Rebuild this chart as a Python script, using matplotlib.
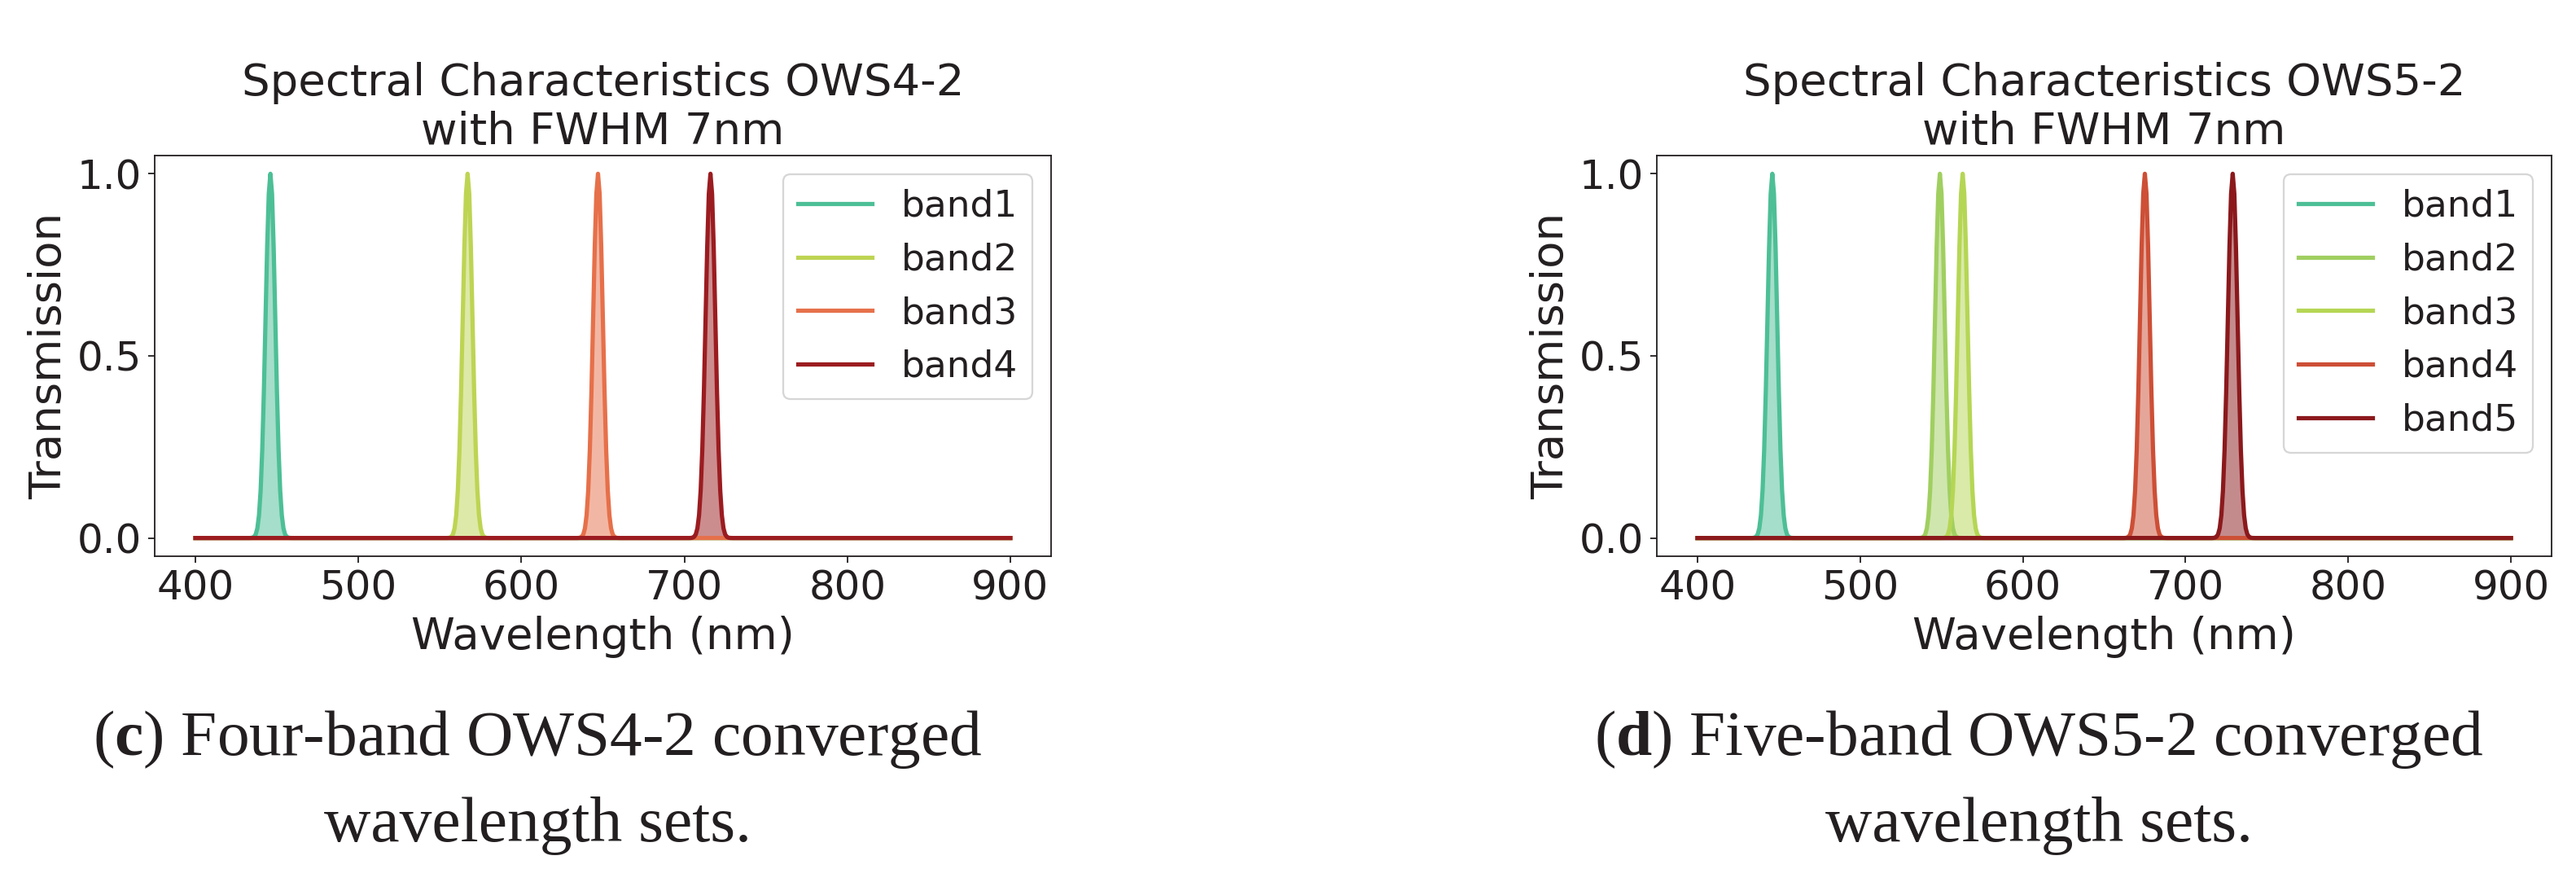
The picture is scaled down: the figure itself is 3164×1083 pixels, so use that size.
import numpy as np
import matplotlib
matplotlib.use("Agg")
import matplotlib.pyplot as plt

# ---------------- data ----------------
wavelength_min = 400
wavelength_max = 900
fwhm_nm = 7

bands_c = ["band1", "band2", "band3", "band4"]
centers_c = [446, 567, 647, 716]
colors_c = ["#4dbf96", "#bdd453", "#e6704a", "#9b1c20"]

bands_d = ["band1", "band2", "band3", "band4", "band5"]
centers_d = [446, 549, 563, 675, 729]
colors_d = ["#4dbf96", "#a0cf60", "#b5d654", "#cd4f36", "#8b191c"]

title_c = "Spectral Characteristics OWS4-2\nwith FWHM 7nm"
title_d = "Spectral Characteristics OWS5-2\nwith FWHM 7nm"
caption_c = [r"($\mathbf{c}$) Four-band OWS4-2 converged", "wavelength sets."]
caption_d = [r"($\mathbf{d}$) Five-band OWS5-2 converged", "wavelength sets."]

yticks = [0.0, 0.5, 1.0]
xticks = [400, 500, 600, 700, 800, 900]

# ---------------- style ----------------
TXT = "#231f20"
plt.rcParams.update({
    "font.family": ["DejaVu Sans"],
    "text.color": TXT,
    "axes.edgecolor": TXT,
    "axes.labelcolor": TXT,
    "xtick.color": TXT,
    "ytick.color": TXT,
    "mathtext.fontset": "custom",
    "mathtext.rm": "Liberation Serif",
    "mathtext.bf": "Liberation Serif:bold",
})

DPI = 163.4
W, H = 3164, 1083
fig = plt.figure(figsize=(W / DPI, H / DPI), dpi=DPI)

wl = np.arange(wavelength_min, wavelength_max + 1, 1.0)
sigma = fwhm_nm / (2 * np.sqrt(2 * np.log(2)))


def transmission(center):
    return np.exp(-0.5 * ((wl - center) / sigma) ** 2)


def panel(rect, names, centers, colors, title):
    ax = fig.add_axes(rect)
    for name, c, col in zip(names, centers, colors):
        t = transmission(c)
        ax.plot(wl, t, color=col, lw=2.3, label=name)
        ax.fill_between(wl, t, color=col, alpha=0.5, lw=0)
    ax.set_xticks(xticks)
    ax.set_yticks(yticks)
    ax.tick_params(labelsize=22)
    ax.set_xlabel("Wavelength (nm)", fontsize=24)
    ax.set_ylabel("Transmission", fontsize=24)
    ax.set_title(title, fontsize=24)
    leg = ax.legend(loc="upper right", fontsize=20)
    for txt in leg.get_texts():
        txt.set_color(TXT)
    return ax


ax_top = 1 - 683 / H
ax_h = 492 / H
panel([190 / W, ax_top, 1101 / W, ax_h], bands_c, centers_c, colors_c, title_c)
panel([2035 / W, ax_top, 1099 / W, ax_h], bands_d, centers_d, colors_d, title_d)

cap_kw = dict(fontsize=35, family="Liberation Serif", ha="center", va="baseline")
for cx, cap in ((660, caption_c), (2504, caption_d)):
    fig.text(cx / W, 1 - 927 / H, cap[0], **cap_kw)
    fig.text(cx / W, 1 - 1033 / H, cap[1], **cap_kw)

fig.savefig("out.png", dpi=DPI)
